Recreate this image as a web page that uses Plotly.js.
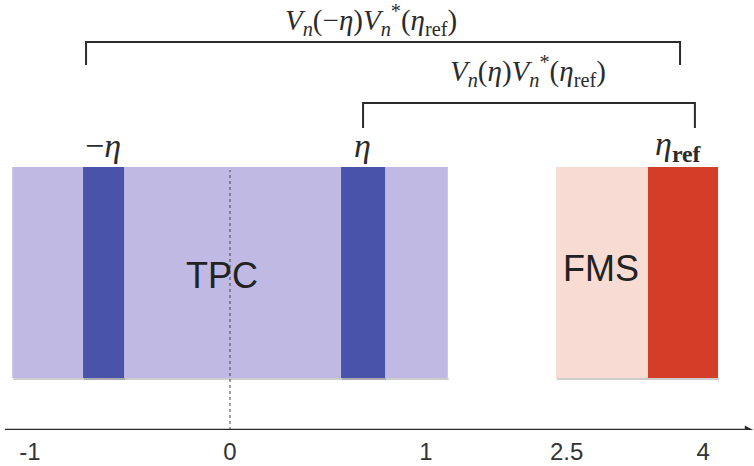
<!DOCTYPE html>
<html>
<head>
<meta charset="utf-8">
<script src="https://cdn.plot.ly/plotly-3.0.1.min.js"></script>
<style>
  html, body { margin: 0; padding: 0; background: #fff; }
  #chart { width: 754px; height: 466px; }
</style>
</head>
<body>
<div id="chart"></div>
<script>
// Pseudorapidity axis: display positions of the tick marks (the axis is broken after 1)
const tickPos = [-1.01, 0, 0.99, 1.70, 2.39];
const tickLabels = ['-1', '0', '1', '2.5', '4'];

// Detector acceptance blocks [x0, x1] in display units
const tpcRange = [-1.1, 1.1];
const etaBands = [[-0.742, -0.535], [0.561, 0.783]];   // -η and η slices
const fmsRange = [1.646, 2.111];
const refBand = [2.111, 2.465];                          // η_ref slice

// Vertical extent of the detector blocks
const blockY = [52, 263];

// Correlation brackets: [left, right, bar height, leg bottom]
const brackets = [
  [-0.727, 2.273, 388, 365],
  [0.672, 2.348, 327, 302]
];

const colors = {
  tpc: '#bfb9e4',
  band: '#4853a9',
  fms: '#f8dcd3',
  ref: '#d43d28',
  ink: '#2b2b2b'
};

const shapes = [];

function block(x, color) {
  shapes.push({type: 'rect', xref: 'x', yref: 'y', x0: x[0], x1: x[1],
    y0: blockY[0], y1: blockY[1], fillcolor: color, line: {width: 0}, layer: 'below'});
  // soft shadow along the bottom edge
  shapes.push({type: 'rect', xref: 'x', yref: 'y', x0: x[0] + 0.005, x1: x[1] + 0.005,
    y0: blockY[0] - 2, y1: blockY[0], fillcolor: 'rgba(90,90,90,0.3)', line: {width: 0}, layer: 'below'});
}

block(tpcRange, colors.tpc);
etaBands.forEach(b => block(b, colors.band));
block(fmsRange, colors.fms);
block(refBand, colors.ref);

// η = 0 reference line
shapes.push({type: 'line', xref: 'x', yref: 'y', x0: 0, x1: 0, y0: 0, y1: blockY[1] - 3,
  line: {color: '#444', width: 1, dash: 'dot'}});

// Brackets
brackets.forEach(([l, r, top, bot]) => {
  shapes.push({type: 'path', xref: 'x', yref: 'y',
    path: `M ${l} ${bot} L ${l} ${top} L ${r} ${top} L ${r} ${bot}`,
    line: {color: colors.ink, width: 2}});
});

// Axis line with arrow head
shapes.push({type: 'line', xref: 'x', yref: 'y', x0: -1.137, x1: 2.625, y0: 0, y1: 0,
  line: {color: colors.ink, width: 2.5}});
shapes.push({type: 'path', xref: 'x', yref: 'y',
  path: 'M 2.6 4.5 L 2.643 0 L 2.6 -4.5 Z', fillcolor: colors.ink, line: {width: 0}});

const serif = 'Liberation Serif, DejaVu Serif, serif';
const sans = 'Liberation Sans, Arial, sans-serif';

const annotations = [
  {x: 0.71, y: 410, text: '<i>V</i><sub><i>n</i></sub>(−<i>η</i>)<i>V</i><sub><i>n</i></sub><sup>*</sup>(<i>η</i><sub>ref</sub>)',
    font: {family: serif, size: 29, color: colors.ink}},
  {x: 1.505, y: 359, text: '<i>V</i><sub><i>n</i></sub>(<i>η</i>)<i>V</i><sub><i>n</i></sub><sup>*</sup>(<i>η</i><sub>ref</sub>)',
    font: {family: serif, size: 29, color: colors.ink}},
  {x: -0.642, y: 285, text: '−<i>η</i>', font: {family: serif, size: 34, color: colors.ink}},
  {x: 0.667, y: 285, text: '<i>η</i>', font: {family: serif, size: 34, color: colors.ink}},
  {x: 2.264, y: 284, text: '<i>η</i><sub><b>ref</b></sub>', font: {family: serif, size: 34, color: colors.ink}},
  {x: -0.04, y: 155, text: 'TPC', font: {family: sans, size: 36, color: '#222'}},
  {x: 1.873, y: 162, text: 'FMS', font: {family: sans, size: 36, color: '#222'}}
].map(a => Object.assign({xref: 'x', yref: 'y', showarrow: false}, a));

const layout = {
  width: 754, height: 466,
  margin: {l: 0, r: 0, t: 0, b: 36},
  paper_bgcolor: '#fff', plot_bgcolor: '#fff',
  showlegend: false,
  xaxis: {range: [-230 / 198, 524 / 198], tickvals: tickPos, ticktext: tickLabels,
    showgrid: false, zeroline: false, showline: false, ticks: '', ticklabelstandoff: 5,
    tickfont: {family: sans, size: 24, color: '#333'}, fixedrange: true},
  yaxis: {range: [0, 430], visible: false, showgrid: false, zeroline: false, fixedrange: true},
  shapes: shapes,
  annotations: annotations
};

// invisible trace so the axes are drawn
Plotly.newPlot('chart', [{x: tickPos, y: tickPos.map(() => 0), mode: 'markers',
  marker: {opacity: 0}, hoverinfo: 'skip'}], layout, {staticPlot: true});
</script>
</body>
</html>
